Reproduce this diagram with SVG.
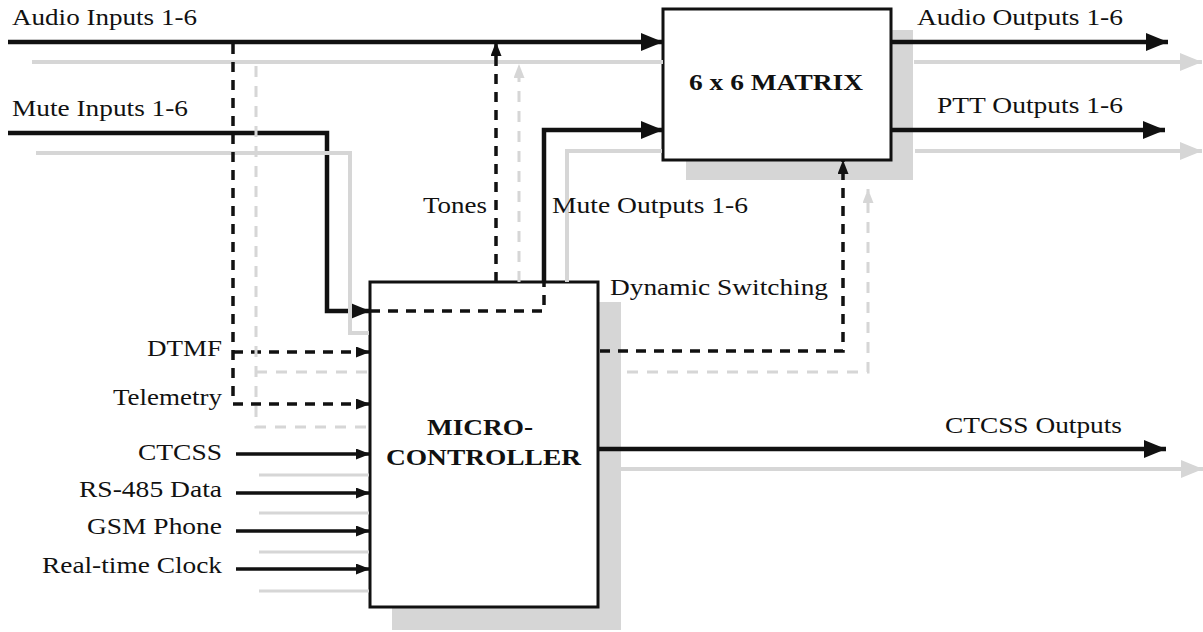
<svg xmlns="http://www.w3.org/2000/svg" width="1203" height="632" viewBox="0 0 1203 632">
<style>
.t{font-family:"Liberation Serif","Times New Roman",serif;font-size:24px;fill:#111}
.b{font-weight:bold}
.shadow{fill:#d6d6d6;stroke:none}
.box{fill:#fff;stroke:#111;stroke-width:3}
.k{fill:none;stroke:#111;stroke-width:4.5;stroke-linejoin:miter}
.g{fill:none;stroke:#d6d6d6;stroke-width:4;stroke-linejoin:miter}
.kt{fill:none;stroke:#111;stroke-width:3.5}
.gt{fill:none;stroke:#d6d6d6;stroke-width:3}
.kd{fill:none;stroke:#111;stroke-width:3.5;stroke-dasharray:10 8}
.gd{fill:none;stroke:#d6d6d6;stroke-width:3;stroke-dasharray:11 9}
</style>
<defs>
<marker id="aK" markerUnits="userSpaceOnUse" markerWidth="24" markerHeight="20" refX="22" refY="9" orient="auto"><path d="M0,0 L22,9 L0,18 z" fill="#111"/></marker>
<marker id="aG" markerUnits="userSpaceOnUse" markerWidth="24" markerHeight="20" refX="22" refY="9" orient="auto"><path d="M0,0 L22,9 L0,18 z" fill="#d6d6d6"/></marker>
<marker id="sK" markerUnits="userSpaceOnUse" markerWidth="16" markerHeight="12" refX="14" refY="5.5" orient="auto"><path d="M0,0 L14,5.5 L0,11 z" fill="#111"/></marker>
<marker id="sG" markerUnits="userSpaceOnUse" markerWidth="16" markerHeight="12" refX="14" refY="5.5" orient="auto"><path d="M0,0 L14,5.5 L0,11 z" fill="#d6d6d6"/></marker>
</defs>

<g id="matrix">
<rect class="shadow" x="686" y="30" width="227" height="150"/>
<rect class="box" x="663" y="9" width="228" height="151"/>
<text class="t b" x="689" y="90" textLength="174" lengthAdjust="spacingAndGlyphs">6 x 6 MATRIX</text>
</g>

<g id="microcontroller">
<rect class="shadow" x="392" y="302" width="229" height="328"/>
<rect class="box" x="370" y="282" width="228" height="325"/>
<text class="t b" x="427" y="435" textLength="106" lengthAdjust="spacingAndGlyphs">MICRO-</text>
<text class="t b" x="386" y="465" textLength="195" lengthAdjust="spacingAndGlyphs">CONTROLLER</text>
</g>

<g id="connectors">
<!-- audio inputs -->
<path class="k" d="M8,42 H663" marker-end="url(#aK)"/>
<path class="g" d="M32,62 H663"/>
<!-- mute inputs -->
<path class="k" d="M8,133 H327 V311 H370" marker-end="url(#aK)"/>
<path class="g" d="M36,153 H350 V333 H369"/>
<!-- tones -->
<path class="kd" d="M496,282 V42" marker-end="url(#sK)"/>
<path class="gd" d="M519,282 V64" marker-end="url(#sG)"/>
<!-- mute outputs -->
<path class="kd" d="M370,311 H544 V282"/>
<path class="k" d="M544,283 V130 H663" marker-end="url(#aK)"/>
<path class="g" d="M567,282 V151 H662"/>
<!-- DTMF / telemetry -->
<path class="kd" d="M233,44 V404 H370" marker-end="url(#sK)"/>
<path class="kd" d="M233,352 H370" marker-end="url(#sK)"/>
<path class="gd" d="M256,66 V427 H369"/>
<path class="gd" d="M256,372 H369"/>
<!-- dynamic switching -->
<path class="kd" d="M600,351 H843 V160" marker-end="url(#sK)"/>
<path class="gd" d="M627,372 H868 V189" marker-end="url(#sG)"/>
<!-- outputs -->
<path class="k" d="M891,42 H1168" marker-end="url(#aK)"/>
<path class="g" d="M914,62 H1202" marker-end="url(#aG)"/>
<path class="k" d="M891,130 H1165" marker-end="url(#aK)"/>
<path class="g" d="M915,151 H1202" marker-end="url(#aG)"/>
<path class="k" d="M598,449 H1166" marker-end="url(#aK)"/>
<path class="g" d="M621,469 H1203" marker-end="url(#aG)"/>
<!-- left inputs -->
<path class="kt" d="M236,454 H370" marker-end="url(#sK)"/>
<path class="kt" d="M236,493 H370" marker-end="url(#sK)"/>
<path class="kt" d="M236,531 H370" marker-end="url(#sK)"/>
<path class="kt" d="M236,569 H370" marker-end="url(#sK)"/>
<path class="gt" d="M259,475 H369"/>
<path class="gt" d="M259,513 H369"/>
<path class="gt" d="M259,552 H369"/>
<path class="gt" d="M259,591 H369"/>
</g>

<g id="labels">
<text class="t" x="12" y="25" textLength="185" lengthAdjust="spacingAndGlyphs">Audio Inputs 1-6</text>
<text class="t" x="12" y="116" textLength="176" lengthAdjust="spacingAndGlyphs">Mute Inputs 1-6</text>
<text class="t" x="917" y="25" textLength="206" lengthAdjust="spacingAndGlyphs">Audio Outputs 1-6</text>
<text class="t" x="937" y="113" textLength="186" lengthAdjust="spacingAndGlyphs">PTT Outputs 1-6</text>
<text class="t" x="423" y="213" textLength="64" lengthAdjust="spacingAndGlyphs">Tones</text>
<text class="t" x="552" y="213" textLength="196" lengthAdjust="spacingAndGlyphs">Mute Outputs 1-6</text>
<text class="t" x="610" y="295" textLength="218" lengthAdjust="spacingAndGlyphs">Dynamic Switching</text>
<text class="t" x="147" y="356" textLength="75" lengthAdjust="spacingAndGlyphs">DTMF</text>
<text class="t" x="113" y="405" textLength="109" lengthAdjust="spacingAndGlyphs">Telemetry</text>
<text class="t" x="138" y="460" textLength="84" lengthAdjust="spacingAndGlyphs">CTCSS</text>
<text class="t" x="79" y="497" textLength="143" lengthAdjust="spacingAndGlyphs">RS-485 Data</text>
<text class="t" x="87" y="534" textLength="135" lengthAdjust="spacingAndGlyphs">GSM Phone</text>
<text class="t" x="42" y="573" textLength="180" lengthAdjust="spacingAndGlyphs">Real-time Clock</text>
<text class="t" x="945" y="433" textLength="177" lengthAdjust="spacingAndGlyphs">CTCSS Outputs</text>
</g>
</svg>
